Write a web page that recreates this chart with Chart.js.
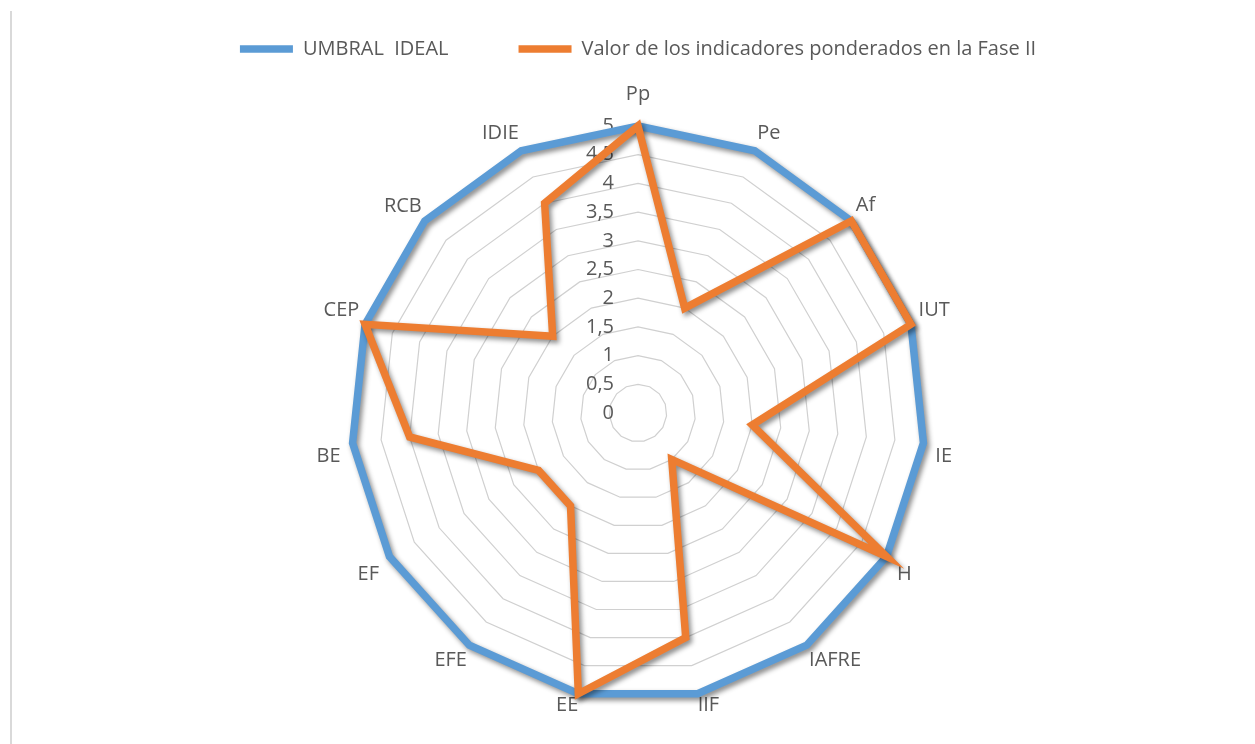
<!DOCTYPE html>
<html>
<head>
<meta charset="utf-8">
<script src="https://cdn.jsdelivr.net/npm/chart.js@4/dist/chart.umd.min.js"></script>
<style>
  html, body { margin: 0; padding: 0; background: #ffffff; }
  body { width: 1255px; height: 744px; position: relative; overflow: hidden; }
  #frame { position: absolute; left: 10px; top: 11px; width: 2px; bottom: 0; background: #d9d9d9; }
  #wrap { position: absolute; left: 0; top: 0; width: 1255px; height: 744px; }
</style>
</head>
<body>
<div id="frame"></div>
<div id="wrap"><canvas id="radar"></canvas></div>
<script>
// categories (clockwise from the top)
const indicadores = ["Pp", "Pe", "Af", "IUT", "IE", "H", "IAFRE", "IIF", "EE", "EFE", "EF", "BE", "CEP", "RCB", "IDIE"];
// series
const umbralIdeal = [5, 5, 5, 5, 5, 5, 5, 5, 5, 5, 5, 5, 5, 5, 5];
const valorFaseII = [5, 2, 5, 5, 2, 5, 1, 4, 5, 2, 2, 4, 5, 2, 4];
const seriesNames = ["UMBRAL  IDEAL", "Valor de los indicadores ponderados en la Fase II"];
// axis range
const axisMin = 0;
const axisMax = 5;
const axisStep = 0.5;

const textColor = "#595959";
const fontFamily = "'Open Sans', 'Noto Sans', sans-serif";
//distance between each category label and its corner, same order as indicadores
const labelGap = [20, 6, 6, 8, 12, 12, 4, 0, 0, 4, 12, 12, 6, 4, 6];

//draws the value labels right-aligned next to the vertical axis
const tickLabels = {
  id: "tickLabels",
  beforeDatasetsDraw(chart) {
    const scale = chart.scales.r;
    const ctx = chart.ctx;
    ctx.save();
    ctx.font = "20px " + fontFamily;
    ctx.fillStyle = textColor;
    ctx.textAlign = "right";
    ctx.textBaseline = "middle";
    scale.ticks.forEach((t) => {
      const d = scale.getDistanceFromCenterForValue(t.value);
      ctx.fillText(t.label, scale.xCenter - 24, scale.yCenter - d);
    });
    ctx.restore();
  },
};

//soft shadow under each line
const lineShadow = {
  id: "lineShadow",
  beforeDatasetDraw(chart) {
    const ctx = chart.ctx;
    ctx.save();
    ctx.shadowColor = "rgba(0,0,0,0.45)";
    ctx.shadowBlur = 5;
    ctx.shadowOffsetX = 2.5;
    ctx.shadowOffsetY = 3;
  },
  afterDatasetDraw(chart) {
    chart.ctx.restore();
  },
};

new Chart(document.getElementById("radar"), {
  type: "radar",
  plugins: [tickLabels, lineShadow],
  data: {
    labels: indicadores,
    datasets: [
      {
        label: seriesNames[0],
        data: umbralIdeal,
        borderColor: "#5B9BD5",
        backgroundColor: "#5B9BD5",
        borderWidth: 7.5,
        borderCapStyle: "round",
        borderJoinStyle: "miter",
        fill: false,
        pointRadius: 0,
        order: 2,
      },
      {
        label: seriesNames[1],
        data: valorFaseII,
        borderColor: "#ED7D31",
        backgroundColor: "#ED7D31",
        borderWidth: 7.5,
        borderCapStyle: "round",
        borderJoinStyle: "miter",
        fill: false,
        pointRadius: 0,
        order: 1,
      },
    ],
  },
  options: {
    responsive: true,
    maintainAspectRatio: false,
    animation: false,
    layout: { padding: { top: -31, bottom: 13, left: 21, right: 0 } },
    plugins: {
      tooltip: { enabled: false },
      legend: {
        position: "top",
        labels: {
          usePointStyle: true,
          pointStyle: "line",
          pointStyleWidth: 53,
          padding: 70,
          color: textColor,
          font: { family: fontFamily, size: 20 },
          sort: (a, b) => a.datasetIndex - b.datasetIndex,
        },
      },
    },
    scales: {
      r: {
        min: axisMin,
        max: axisMax,
        ticks: {
          stepSize: axisStep,
          display: false,
          callback: (v) => String(v).replace(".", ","),
        },
        grid: { color: "#d0d0d0", lineWidth: 1.2, circular: false },
        angleLines: { display: false },
        pointLabels: {
          color: textColor,
          font: { family: fontFamily, size: 20 },
          padding: (ctx) => labelGap[ctx.index],
        },
      },
    },
  },
});
</script>
</body>
</html>
